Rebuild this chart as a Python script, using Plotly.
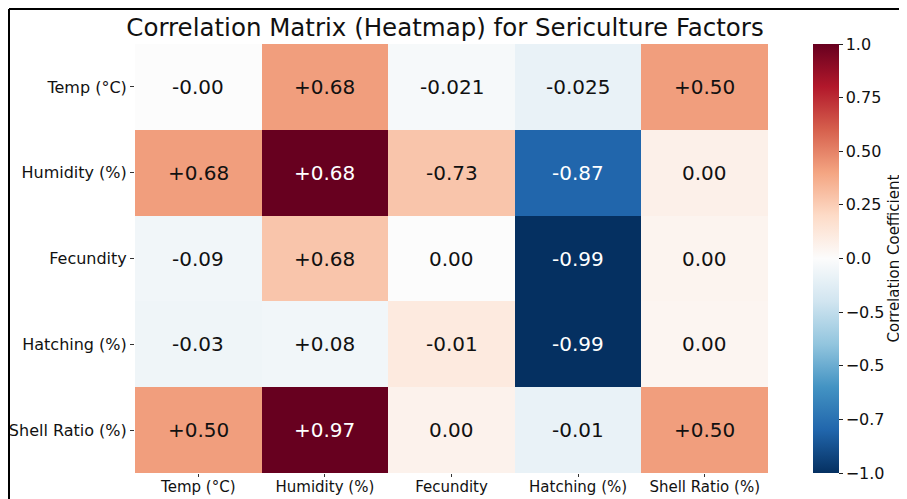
import plotly.graph_objects as go

factors = ["Temp (°C)", "Humidity (%)", "Fecundity", "Hatching (%)", "Shell Ratio (%)"]

# colour values as drawn (cell shading)
z_colour = [
    [0.00, 0.42, -0.03, -0.09, 0.42],
    [0.42, 1.00, 0.28, -0.80, 0.07],
    [-0.05, 0.28, 0.00, -1.00, 0.05],
    [-0.06, -0.05, 0.11, -1.00, 0.04],
    [0.42, 1.00, 0.06, -0.09, 0.42],
]

# annotation labels as printed in the cells
cell_text = [
    ["-0.00", "+0.68", "-0.021", "-0.025", "+0.50"],
    ["+0.68", "+0.68", "-0.73", "-0.87", "0.00"],
    ["-0.09", "+0.68", "0.00", "-0.99", "0.00"],
    ["-0.03", "+0.08", "-0.01", "-0.99", "0.00"],
    ["+0.50", "+0.97", "0.00", "-0.01", "+0.50"],
]

cbar_tickvals = [1.0, 0.75, 0.5, 0.25, 0.0, -0.25, -0.5, -0.75, -1.0]
cbar_ticktext = ["1.0", "0.75", "0.50", "0.25", "0.0", "\u22120.5", "\u22120.5", "\u22120.7", "\u22121.0"]

rdbu_r = ["#053061", "#2166ac", "#4393c3", "#92c5de", "#d1e5f0", "#fcfcfc",
          "#fddbc7", "#f4a582", "#d6604d", "#b2182b", "#67001f"]
colorscale = [[i / 10, c] for i, c in enumerate(rdbu_r)]

OFF = 8  # page body margin in the browser
W, H = 907 - OFF, 499 - OFF
L, R, T, B = 135 - OFF, 907 - 768, 44 - OFF, 499 - 473
plot_w = W - L - R
plot_h = H - T - B

fig = go.Figure()
fig.add_trace(go.Heatmap(
    z=z_colour, x=factors, y=factors, zmin=-1, zmax=1,
    colorscale=colorscale, xgap=0, ygap=0, hoverinfo="skip",
    colorbar=dict(
        x=(813 - 135) / plot_w, xanchor="left", xpad=0,
        y=0.5, yanchor="middle", len=1.0, lenmode="fraction", ypad=0,
        thickness=26, outlinewidth=0,
        tickmode="array", tickvals=cbar_tickvals, ticktext=cbar_ticktext,
        ticks="outside", ticklen=4, tickcolor="#222",
        tickfont=dict(family="DejaVu Sans", size=16, color="#111"),
    ),
))

for i, row in enumerate(cell_text):
    for j, t in enumerate(row):
        dark = abs(z_colour[i][j]) > 0.7
        fig.add_annotation(x=factors[j], y=factors[i], text=t, showarrow=False,
                           font=dict(family="DejaVu Sans", size=20,
                                     color="white" if dark else "#111"))

# colour bar title
fig.add_annotation(xref="paper", yref="paper",
                   x=(885 - L) / plot_w, y=0.5, xanchor="center", yanchor="middle",
                   text="Correlation Coefficient", textangle=-90, showarrow=False,
                   font=dict(family="DejaVu Sans", size=15, color="#111"))

fig.update_layout(
    width=W, height=H,
    margin=dict(l=L, r=R, t=T, b=B, autoexpand=False),
    paper_bgcolor="white", plot_bgcolor="white",
    title=dict(text="Correlation Matrix (Heatmap) for Sericulture Factors",
               x=(445 - OFF) / W, xanchor="center", y=1 - (27 - OFF) / H, yanchor="middle",
               font=dict(family="DejaVu Sans", size=24.5, color="#111")),
    xaxis=dict(tickfont=dict(family="DejaVu Sans", size=15, color="#111"),
               ticks="outside", ticklen=3, tickcolor="#333", showgrid=False,
               zeroline=False, showline=False, ticklabelstandoff=-3),
    yaxis=dict(tickfont=dict(family="DejaVu Sans", size=16, color="#111"),
               ticks="outside", ticklen=4, tickcolor="#333", showgrid=False,
               zeroline=False, showline=False, autorange="reversed"),
)

# partial frame (top and left border lines of the picture)
x_left = (1 - L) / plot_w
x_right = (W + 5 - L) / plot_w
y_top = 1 + (T - 1) / plot_h
y_bottom = -(B + 5) / plot_h
fig.add_shape(type="line", xref="paper", yref="paper", x0=x_left, x1=x_right,
              y0=y_top, y1=y_top, line=dict(color="black", width=2))
fig.add_shape(type="line", xref="paper", yref="paper", x0=x_left, x1=x_left,
              y0=y_bottom, y1=y_top, line=dict(color="black", width=2))

fig.write_html("out.html")
